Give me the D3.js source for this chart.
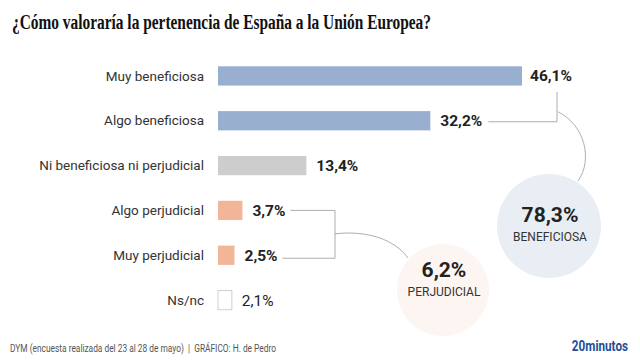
<!DOCTYPE html>
<html><head><meta charset="utf-8">
<script src="https://cdn.jsdelivr.net/npm/d3@7"></script>
<style>body{margin:0;background:#fff}svg{display:block}</style>
</head><body>
<svg id="c" width="640" height="360"></svg>
<script>
const categories = ["Muy beneficiosa","Algo beneficiosa","Ni beneficiosa ni perjudicial","Algo perjudicial","Muy perjudicial","Ns/nc"];
const values = [46.1, 32.2, 13.4, 3.7, 2.5, 2.1];
const valueLabels = ["46,1%","32,2%","13,4%","3,7%","2,5%","2,1%"];
const groups = ["ben","ben","neu","per","per","ns"];
const totals = [{label:"78,3%", name:"BENEFICIOSA"},{label:"6,2%", name:"PERJUDICIAL"}];
const title = "¿Cómo valoraría la pertenencia de España a la Unión Europea?";
const source = "DYM (encuesta realizada del 23 al 28 de mayo)  |  GRÁFICO: H. de Pedro";
const brand = "20minutos";

const colors = {ben:"#98afd0", neu:"#cdcdcd", per:"#f3b597", ns:"#ffffff"};
const svg = d3.select("#c");

svg.append("text").attr("x",12).attr("y",29).text(title)
  .attr("font-family","Liberation Serif").attr("font-weight","bold").attr("font-size",20.5)
  .attr("fill","#111").attr("textLength",419).attr("lengthAdjust","spacingAndGlyphs");

const x = d3.scaleLinear().domain([0,46.1]).range([218,522]);
const y = d3.scaleBand().domain(categories).range([53.5,322.5]).paddingInner(0.57).paddingOuter(0.285);

// circles
const cBen = {cx:549, cy:226, r:52};
const cPer = {cx:443, cy:290, r:46};
svg.append("circle").attr("cx",cBen.cx).attr("cy",cBen.cy).attr("r",cBen.r).attr("fill","#e9eef4");
svg.append("circle").attr("cx",cPer.cx).attr("cy",cPer.cy).attr("r",cPer.r).attr("fill","#fdf5f1");

const g = svg.append("g");
categories.forEach((c,i)=>{
  const yc = y(c)+y.bandwidth()/2;
  g.append("text").attr("x",204).attr("y",yc).attr("dy","0.35em").attr("text-anchor","end")
    .attr("font-family","Roboto").attr("font-size",13.5).attr("fill","#333").text(c);
  g.append("rect").attr("x",x(0)).attr("y",y(c)).attr("width",x(values[i])-x(0)).attr("height",y.bandwidth())
    .attr("fill",colors[groups[i]]).attr("stroke",groups[i]==="ns"?"#d0d0d0":"none");
});

const valTexts = categories.map((c,i)=>{
  const yc = y(c)+y.bandwidth()/2;
  return g.append("text").attr("x",x(values[i])+(i===0?8:10)).attr("y",yc).attr("dy","0.36em")
    .attr("font-family","Roboto").attr("font-weight",groups[i]==="ns"?"normal":"bold")
    .attr("font-size",15.5).attr("fill","#222").text(valueLabels[i]);
});
const endX = i => +valTexts[i].attr("x") + valTexts[i].node().getComputedTextLength();
const yc = i => y(categories[i])+y.bandwidth()/2;

const line = {stroke:"#999", fill:"none", "stroke-width":0.8};
function path(d){ const p = svg.append("path").attr("d",d); Object.entries(line).forEach(([k,v])=>p.attr(k,v)); }

// benefit bracket
const bx = 557;
path(`M${endX(1)+6},${yc(1)+1}H${bx}V${yc(0)+16}`);
path(`M${bx+1},${yc(1)-9}C585,125 593,160 578,${cBen.cy-cBen.r+7}`);

// harm bracket
const px = 335;
path(`M${endX(3)+5},${yc(3)}H${px}V${yc(4)+3}H${endX(4)+5}`);
path(`M${px},${(yc(3)+yc(4))/2+1}C368,230 395,240 408,258`);

// totals
[cBen,cPer].forEach((c,i)=>{
  svg.append("text").attr("x",c.cx+1).attr("y",c.cy-(i===0?4:13)).attr("text-anchor","middle")
    .attr("font-family","Roboto").attr("font-weight","bold").attr("font-size",21).attr("fill","#222").text(totals[i].label);
  svg.append("text").attr("x",c.cx+1).attr("y",c.cy+(i===0?15:6)).attr("text-anchor","middle")
    .attr("font-family","Roboto").attr("font-size",12).attr("fill","#333").text(totals[i].name);
});

svg.append("text").attr("x",10).attr("y",352).text(source).attr("xml:space","preserve")
  .attr("font-family","Roboto").attr("font-size",11).attr("fill","#555")
  .attr("textLength",266).attr("lengthAdjust","spacingAndGlyphs");
svg.append("text").attr("transform","translate(628,351) scale(0.78,1)").attr("text-anchor","end").text(brand)
  .attr("font-family","Roboto").attr("font-weight","bold").attr("font-size",15).attr("fill","#1f4e96");
</script>
</body></html>
